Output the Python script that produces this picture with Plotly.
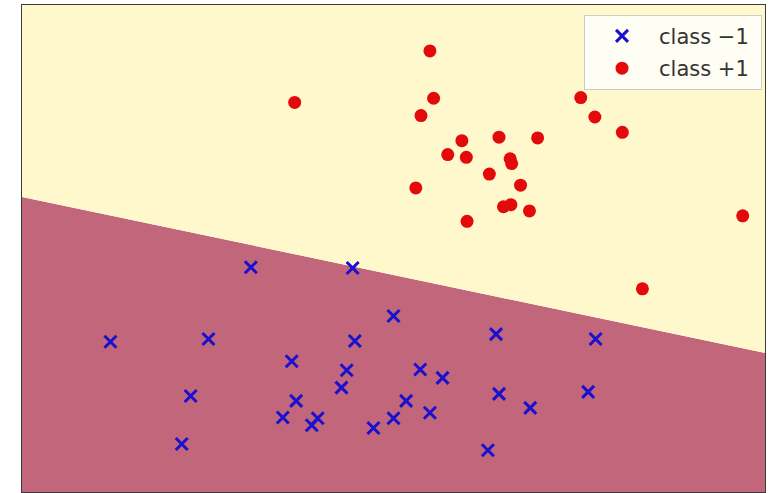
import plotly.graph_objects as go

# Class -1 samples (x, y)
neg_x = [3.08, 1.19, 2.51, 3.63, 2.27, 3.69, 3.51, 3.98, 3.90, 2.15,
         4.45, 5.00, 4.48, 6.38, 7.72, 4.37, 5.36, 5.66, 4.30, 6.42,
         7.62, 5.17, 6.84, 5.00, 5.49, 4.73, 6.27]
neg_y = [3.23, 2.16, 2.20, 1.88, 1.38, 1.31, 1.07, 1.06, 0.96, 0.69,
         3.22, 2.53, 2.17, 2.27, 2.20, 1.75, 1.76, 1.64, 1.50, 1.41,
         1.44, 1.31, 1.21, 1.06, 1.14, 0.92, 0.60]

# Class +1 samples (x, y)
pos_x = [5.49, 3.67, 5.54, 5.37, 5.92, 6.42, 6.94, 5.73, 5.98, 6.57,
         6.59, 6.29, 6.71, 5.30, 6.48, 6.58, 6.83, 5.99, 7.52, 7.71,
         8.08, 9.70, 8.35]
pos_y = [6.34, 5.60, 5.66, 5.41, 5.05, 5.10, 5.09, 4.85, 4.81, 4.79,
         4.72, 4.57, 4.41, 4.37, 4.10, 4.13, 4.04, 3.89, 5.67, 5.39,
         5.17, 3.97, 2.92]

# Linear decision boundary: y = intercept + slope * x
boundary_intercept = 4.24
boundary_slope = -0.224

x_range = [0.0, 10.0]
y_range = [0.0, 7.0]

edge_dot_x = 10.03


def boundary(x):
    return boundary_intercept + boundary_slope * x


x0, x1 = x_range
y0, y1 = y_range
b0, b1 = boundary(x0), boundary(x1)

fig = go.Figure()

# Region predicted as class -1 (below the boundary)
fig.add_trace(go.Scatter(
    x=[x0, x1, x1, x0, x0], y=[y0, y0, b1, b0, y0],
    mode="lines", fill="toself", fillcolor="#c2667c",
    line=dict(width=0, color="#c2667c"),
    hoverinfo="skip", showlegend=False,
))
# Region predicted as class +1 (above the boundary)
fig.add_trace(go.Scatter(
    x=[x0, x1, x1, x0, x0], y=[b0, b1, y1, y1, b0],
    mode="lines", fill="toself", fillcolor="#fff8cd",
    line=dict(width=0, color="#fff8cd"),
    hoverinfo="skip", showlegend=False,
))

fig.add_trace(go.Scatter(
    x=neg_x, y=neg_y, mode="markers", name="class \u22121\u00a0",
    legendgroup="neg",
    marker=dict(symbol="x-thin", size=12, color="#1a10d0",
                line=dict(width=3, color="#1a10d0")),
))
fig.add_trace(go.Scatter(
    x=pos_x, y=pos_y, mode="markers", name="class +1\u00a0",
    legendgroup="pos",
    marker=dict(symbol="circle", size=13, color="#e20a0a",
                line=dict(width=0)),
))

# Small dot where the boundary meets the right edge
fig.add_trace(go.Scatter(
    x=[edge_dot_x], y=[boundary(edge_dot_x)], mode="markers",
    marker=dict(size=5, color="black"), cliponaxis=False,
    hoverinfo="skip", showlegend=False,
))

axis_style = dict(showticklabels=False, showgrid=False, zeroline=False,
                  showline=True, mirror=True, linecolor="#3a3a3a",
                  linewidth=1, ticks="")

fig.update_layout(
    width=769, height=493,
    margin=dict(l=22, r=4, t=5, b=1),
    paper_bgcolor="white", plot_bgcolor="white",
    font=dict(family="DejaVu Sans", size=21, color="#333333"),
    xaxis=dict(range=x_range, **axis_style),
    yaxis=dict(range=y_range, **axis_style),
    legend=dict(
        x=0.996, y=0.98, xanchor="right", yanchor="top",
        bgcolor="rgba(255,255,255,0.8)", bordercolor="#cccccc",
        borderwidth=1, tracegroupgap=2, itemwidth=64,
        font=dict(family="DejaVu Sans", size=21, color="#333333"),
    ),
)

fig.write_html("out.html")
